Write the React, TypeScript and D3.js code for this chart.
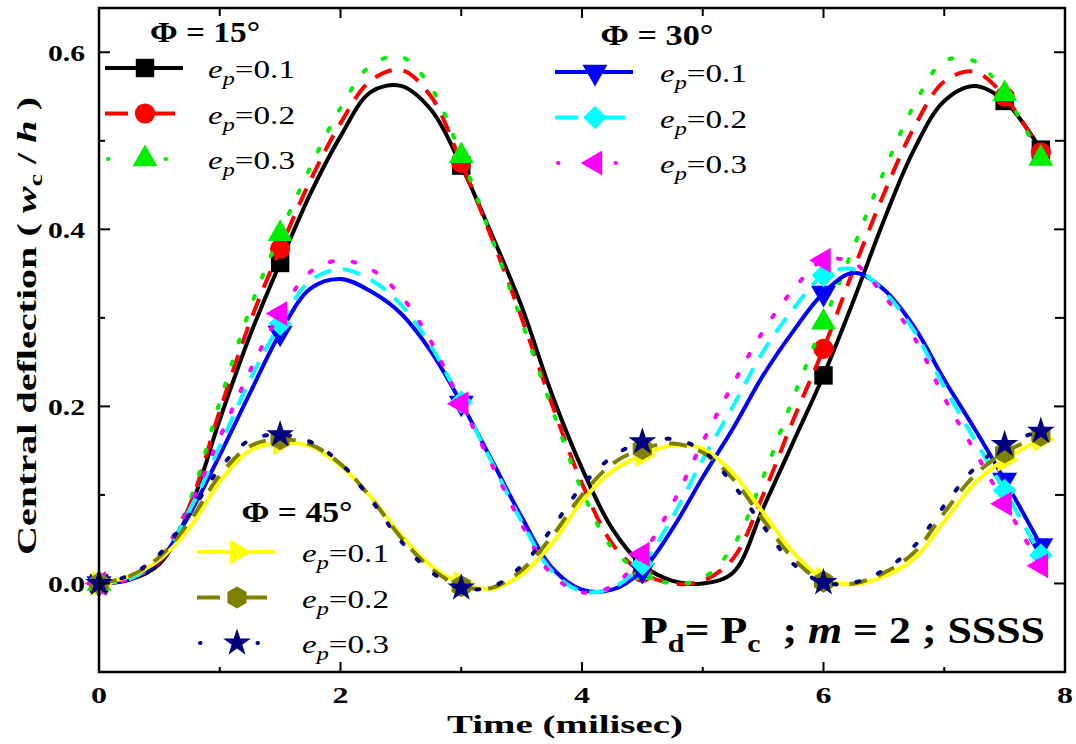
import { useMemo } from "react";
import * as d3 from "d3";

const WIDTH = 1076;
const HEIGHT = 744;
const FONT = '"Liberation Serif", "DejaVu Serif", "Times New Roman", serif';

// time grid (ms) shared by every curve
const TIME = [
  0, 0.25, 0.5, 0.75, 1, 1.25, 1.5, 1.75, 2, 2.25, 2.5, 2.75, 3, 3.25, 3.5, 3.75,
  4, 4.25, 4.5, 4.75, 5, 5.25, 5.5, 5.75, 6, 6.25, 6.5, 6.75, 7, 7.25, 7.5, 7.8,
];
const MARK_TIMES = [0, 1.5, 3, 4.5, 6, 7.5, 7.8];

// Φ = 15°
const PHI15_EP1 = [0, 0.004, 0.022, 0.083, 0.185, 0.28, 0.362, 0.44, 0.505, 0.555, 0.562, 0.535, 0.472, 0.395, 0.313, 0.214, 0.13, 0.062, 0.021, 0.003, 0.0, 0.012, 0.085, 0.16, 0.235, 0.32, 0.41, 0.49, 0.545, 0.562, 0.545, 0.49];
const PHI15_EP2 = [0, 0.005, 0.024, 0.088, 0.195, 0.295, 0.378, 0.455, 0.52, 0.568, 0.58, 0.55, 0.475, 0.391, 0.3, 0.203, 0.113, 0.045, 0.012, 0.0, 0.003, 0.028, 0.1, 0.185, 0.265, 0.355, 0.44, 0.515, 0.567, 0.578, 0.55, 0.487];
const PHI15_EP3 = [0, 0.005, 0.027, 0.093, 0.205, 0.31, 0.395, 0.47, 0.537, 0.585, 0.595, 0.56, 0.483, 0.391, 0.296, 0.198, 0.105, 0.04, 0.012, 0.0, 0.006, 0.042, 0.12, 0.21, 0.295, 0.38, 0.465, 0.54, 0.59, 0.59, 0.553, 0.48];
// Φ = 30°
const PHI30_EP1 = [0, 0.005, 0.026, 0.078, 0.145, 0.215, 0.283, 0.333, 0.344, 0.33, 0.305, 0.262, 0.204, 0.14, 0.075, 0.018, -0.007, -0.007, 0.015, 0.062, 0.12, 0.175, 0.235, 0.285, 0.328, 0.351, 0.332, 0.29, 0.23, 0.175, 0.117, 0.043];
const PHI30_EP2 = [0, 0.005, 0.028, 0.083, 0.155, 0.23, 0.293, 0.342, 0.355, 0.343, 0.315, 0.268, 0.205, 0.138, 0.07, 0.014, -0.009, -0.005, 0.022, 0.075, 0.14, 0.2, 0.262, 0.31, 0.348, 0.355, 0.33, 0.285, 0.222, 0.163, 0.105, 0.032];
const PHI30_EP3 = [0, 0.005, 0.031, 0.088, 0.165, 0.24, 0.305, 0.352, 0.365, 0.355, 0.325, 0.273, 0.203, 0.135, 0.067, 0.01, -0.01, -0.003, 0.033, 0.09, 0.16, 0.225, 0.285, 0.332, 0.365, 0.362, 0.325, 0.278, 0.21, 0.15, 0.09, 0.02];
// Φ = 45°
const PHI45_EP1 = [0, 0.008, 0.027, 0.063, 0.115, 0.15, 0.159, 0.155, 0.133, 0.098, 0.055, 0.02, 0.0, -0.006, 0.01, 0.045, 0.093, 0.127, 0.145, 0.156, 0.152, 0.125, 0.08, 0.035, 0.005, -0.001, 0.008, 0.028, 0.07, 0.113, 0.14, 0.163];
const PHI45_EP2 = [0, 0.008, 0.03, 0.07, 0.122, 0.155, 0.163, 0.157, 0.135, 0.097, 0.052, 0.017, -0.003, -0.005, 0.015, 0.053, 0.1, 0.135, 0.152, 0.158, 0.148, 0.118, 0.072, 0.028, 0.002, 0.0, 0.012, 0.035, 0.08, 0.122, 0.148, 0.167];
const PHI45_EP3 = [0, 0.009, 0.033, 0.078, 0.13, 0.162, 0.168, 0.16, 0.136, 0.095, 0.048, 0.013, -0.005, -0.004, 0.02, 0.062, 0.11, 0.143, 0.16, 0.163, 0.15, 0.112, 0.065, 0.022, 0.001, 0.001, 0.015, 0.042, 0.088, 0.13, 0.157, 0.172];

const PHI_LABELS = ["Φ = 15°", "Φ = 30°", "Φ = 45°"];
const EP_LABELS = ["0.1", "0.2", "0.3"];
const X_MAJOR = [0, 2, 4, 6, 8];
const X_MINOR = [1, 3, 5, 7];
const Y_MAJOR = [0, 0.2, 0.4, 0.6];
const Y_MINOR = [0.1, 0.3, 0.5];

const symbolHexagon = {
  draw(ctx: any, size: number) {
    const r = Math.sqrt(size / (1.5 * Math.sqrt(3)));
    for (let i = 0; i < 6; i++) {
      const a = -Math.PI / 2 + (Math.PI / 3) * i;
      const px = r * Math.cos(a);
      const py = r * Math.sin(a);
      if (i === 0) ctx.moveTo(px, py);
      else ctx.lineTo(px, py);
    }
    ctx.closePath();
  },
};

const SOLID = "solid";
const DASHED = "dashed";
const DOTTED = "dotted";
const DASH_PATTERN: Record<string, string | undefined> = {
  solid: undefined,
  dashed: "18 12",
  dotted: "3 20",
};
// short legend samples: two dashes / two dots around the marker
const LEGEND_PATTERN: Record<string, string | undefined> = {
  solid: undefined,
  dashed: "23 25 22 200",
  dotted: "0.5 57 0.5 200",
};

const SERIES = [
  { values: PHI15_EP1, color: "#000000", dash: SOLID, type: d3.symbolSquare, size: 340, rot: 0 },
  { values: PHI15_EP2, color: "#ff0000", dash: DASHED, type: d3.symbolCircle, size: 320, rot: 0 },
  { values: PHI15_EP3, color: "#00ee00", dash: DOTTED, type: d3.symbolTriangle, size: 270, rot: 0 },
  { values: PHI30_EP1, color: "#0000ff", dash: SOLID, type: d3.symbolTriangle, size: 270, rot: 180 },
  { values: PHI30_EP2, color: "#00ffff", dash: DASHED, type: d3.symbolSquare, size: 280, rot: 45 },
  { values: PHI30_EP3, color: "#ff00ff", dash: DOTTED, type: d3.symbolTriangle, size: 270, rot: -90 },
  { values: PHI45_EP1, color: "#ffff00", dash: SOLID, type: d3.symbolTriangle, size: 270, rot: 90 },
  { values: PHI45_EP2, color: "#808000", dash: DASHED, type: symbolHexagon, size: 320, rot: 0 },
  { values: PHI45_EP3, color: "#000080", dash: DOTTED, type: d3.symbolStar, size: 240, rot: 0 },
];

// legend blocks: header centre/baseline/width, line start, text x, first row y
const LEGEND_BLOCKS = [
  { hx: 205, hy: 42, hw: 110, lx: 105, tx: 208, ry: 68 },
  { hx: 657, hy: 45, hw: 113, lx: 555, tx: 660, ry: 72 },
  { hx: 297, hy: 522, hw: 111, lx: 197, tx: 302, ry: 552 },
];

export default function App() {
  const x = d3.scaleLinear().domain([0, 8]).range([99, 1065]);
  const y = d3.scaleLinear().domain([-0.1, 0.65]).range([672, 8]);
  const [x0, x1] = x.range();
  const [yb, yt] = y.range();

  const line = useMemo(
    () =>
      d3
        .line<number>()
        .x((_, i) => x(TIME[i]))
        .y((d) => y(d))
        .curve(d3.curveCatmullRom.alpha(0.5)),
    []
  );

  const sym = (s: any) => d3.symbol().type(s.type).size(s.size)() as string;

  return (
    <svg
      width={WIDTH}
      height={HEIGHT}
      fontFamily={FONT}
      style={{ position: "absolute", left: 0, top: 0, background: "#fff", fontFamily: FONT }}
    >
      {/* curves and markers */}
      <g>
        {SERIES.map((s, si) => (
          <g key={si}>
            <path
              d={line(s.values) as string}
              fill="none"
              stroke={s.color}
              strokeWidth={4}
              strokeDasharray={DASH_PATTERN[s.dash]}
              strokeLinecap={s.dash === DOTTED ? "round" : "butt"}
            />
            {MARK_TIMES.map((t) => {
              const i = TIME.indexOf(t);
              return (
                <path
                  key={t}
                  d={sym(s)}
                  fill={s.color}
                  transform={`translate(${x(t)},${y(s.values[i])}) rotate(${s.rot})`}
                />
              );
            })}
          </g>
        ))}
      </g>

      {/* frame */}
      <rect x={x0} y={yt} width={x1 - x0} height={yb - yt} fill="none" stroke="#000" strokeWidth={2.5} />

      {/* ticks */}
      <g stroke="#000" strokeWidth={2}>
        {X_MAJOR.map((t) => (
          <g key={`xM${t}`}>
            <line x1={x(t)} x2={x(t)} y1={yb} y2={yb - 10} />
            <line x1={x(t)} x2={x(t)} y1={yt} y2={yt + 10} />
          </g>
        ))}
        {X_MINOR.map((t) => (
          <g key={`xm${t}`}>
            <line x1={x(t)} x2={x(t)} y1={yb} y2={yb - 5} />
            <line x1={x(t)} x2={x(t)} y1={yt} y2={yt + 8} />
          </g>
        ))}
        {Y_MAJOR.map((t) => (
          <g key={`yM${t}`}>
            <line x1={x0} x2={x0 + 11} y1={y(t)} y2={y(t)} />
            <line x1={x1} x2={x1 - 11} y1={y(t)} y2={y(t)} />
          </g>
        ))}
        {Y_MINOR.map((t) => (
          <g key={`ym${t}`}>
            <line x1={x0} x2={x0 + 6} y1={y(t)} y2={y(t)} />
            <line x1={x1} x2={x1 - 10} y1={y(t)} y2={y(t)} />
          </g>
        ))}
      </g>

      {/* tick labels */}
      <g fontSize={24} fontWeight="bold" fill="#000">
        {X_MAJOR.map((t) => (
          <text
            key={t}
            x={x(t) - 8}
            y={703}
            textLength={16}
            lengthAdjust="spacingAndGlyphs"
          >
            {d3.format("d")(t)}
          </text>
        ))}
        {Y_MAJOR.map((t) => (
          <text
            key={t}
            x={48}
            y={y(t) + 9}
            textLength={37}
            lengthAdjust="spacingAndGlyphs"
          >
            {d3.format(".1f")(t)}
          </text>
        ))}
      </g>

      {/* axis titles */}
      <text
        x={447}
        y={733}
        fontSize={26}
        fontWeight="bold"
        textLength={236}
        lengthAdjust="spacingAndGlyphs"
      >
        Time (milisec)
      </text>
      <text
        transform="translate(36,555) rotate(-90)"
        fontSize={27}
        fontWeight="bold"
        textLength={458}
        lengthAdjust="spacingAndGlyphs"
        xmlSpace="preserve"
      >
        {"Central deflection ( "}
        <tspan fontStyle="italic">w</tspan>
        <tspan fontSize={19} dy={6}>c</tspan>
        <tspan dy={-6}>{" / "}</tspan>
        <tspan fontStyle="italic">h</tspan>
        {" )"}
      </text>

      {/* legends */}
      {LEGEND_BLOCKS.map((b, bi) => (
        <g key={bi}>
          <text
            x={b.hx - b.hw / 2}
            y={b.hy}
            fontSize={30}
            fontWeight="bold"
            textLength={b.hw}
            lengthAdjust="spacingAndGlyphs"
          >
            {PHI_LABELS[bi]}
          </text>
          {EP_LABELS.map((ep, ei) => {
            const s = SERIES[bi * 3 + ei];
            const ry = b.ry + ei * 45.5;
            const dotted = s.dash === DOTTED;
            return (
              <g key={ep}>
                <line
                  x1={b.lx + (dotted ? 3 : 0)}
                  x2={b.lx + 78}
                  y1={ry}
                  y2={ry}
                  stroke={s.color}
                  strokeWidth={4}
                  strokeDasharray={LEGEND_PATTERN[s.dash]}
                  strokeLinecap={dotted ? "round" : "butt"}
                />
                <path d={sym(s)} fill={s.color} transform={`translate(${b.lx + 40},${ry}) rotate(${s.rot})`} />
                <text x={b.tx} y={ry + 10} fontSize={26} textLength={87} lengthAdjust="spacingAndGlyphs">
                  <tspan fontStyle="italic">e</tspan>
                  <tspan fontStyle="italic" fontSize={19} dy={7}>p</tspan>
                  <tspan dy={-7}>={ep}</tspan>
                </text>
              </g>
            );
          })}
        </g>
      ))}

      {/* annotation */}
      <text
        x={641}
        y={643}
        fontSize={38}
        fontWeight="bold"
        xmlSpace="preserve"
        textLength={404}
        lengthAdjust="spacingAndGlyphs"
      >
        P<tspan fontSize={26} dy={9}>d</tspan>
        <tspan dy={-9}>= P</tspan>
        <tspan fontSize={26} dy={9}>c</tspan>
        <tspan dy={-9}>{"  ; "}</tspan>
        <tspan fontStyle="italic">m</tspan>
        <tspan>{" = 2 ; SSSS"}</tspan>
      </text>
    </svg>
  );
}
